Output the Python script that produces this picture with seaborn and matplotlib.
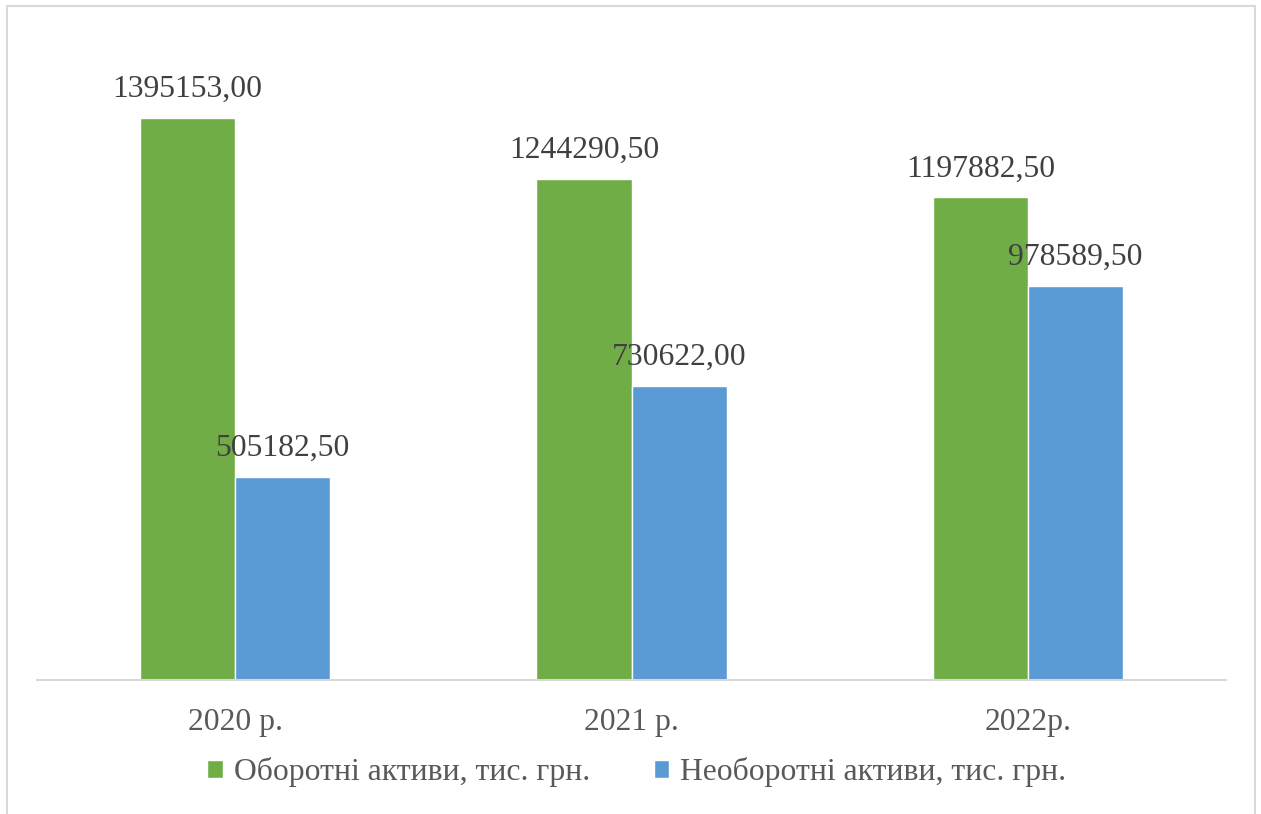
import pandas as pd
import seaborn as sns
import matplotlib.pyplot as plt
from matplotlib.patches import Rectangle

# Chart data
years = ['2020 р.', '2021 р.', '2022р.']
series_names = ['Оборотні активи, тис. грн.', 'Необоротні активи, тис. грн.']
current_assets = [1395153.00, 1244290.50, 1197882.50]
noncurrent_assets = [505182.50, 730622.00, 978589.50]
colors = ['#70AD47', '#5B9BD5']

df = pd.DataFrame({
    'year': years * 2,
    'series': [series_names[0]] * 3 + [series_names[1]] * 3,
    'value': current_assets + noncurrent_assets,
})

sns.set_style('white')
plt.rcParams['font.family'] = ['Liberation Serif', 'DejaVu Serif']

fig = plt.figure(figsize=(12.61, 8.14), dpi=100)
ax = fig.add_axes([0.0293, 0.1646, 0.943, 0.7918])

sns.barplot(data=df, x='year', y='value', hue='series', palette=colors,
            width=0.48, gap=0, saturation=1, ax=ax, legend=True)

# data labels
for cont in ax.containers:
    labels = [f'{b.get_height():.2f}'.replace('.', ',') for b in cont]
    ax.bar_label(cont, labels=labels, padding=10, fontsize=22.8, color='#404040')

ax.set_ylim(0, 1600000)
ax.set_xlim(-0.5, 2.5)
ax.set_xlabel('')
ax.set_ylabel('')
ax.set_yticks([])
for s in ['top', 'right', 'left']:
    ax.spines[s].set_visible(False)
ax.spines['bottom'].set_color('#d9d9d9')
ax.spines['bottom'].set_linewidth(1.5)
ax.tick_params(axis='x', length=0, pad=20, labelsize=22.8, labelcolor='#595959')

# legend below the axis
ax.get_legend().remove()
handles, labs = ax.get_legend_handles_labels()
fig.legend(handles, labs, loc='center', bbox_to_anchor=(0.505, 0.051), ncol=2,
           frameon=False, fontsize=22.8, labelcolor='#595959',
           handlelength=0.5, handleheight=0.5, handletextpad=0.35,
           columnspacing=2.0)

# chart border
fig.patches.append(Rectangle((7 / 1261, -0.01), 1248 / 1261, 1 - 6 / 814 + 0.01,
                             transform=fig.transFigure, fill=False,
                             edgecolor='#d9d9d9', linewidth=1.5))

fig.savefig('out.png', dpi=100, facecolor='white')
